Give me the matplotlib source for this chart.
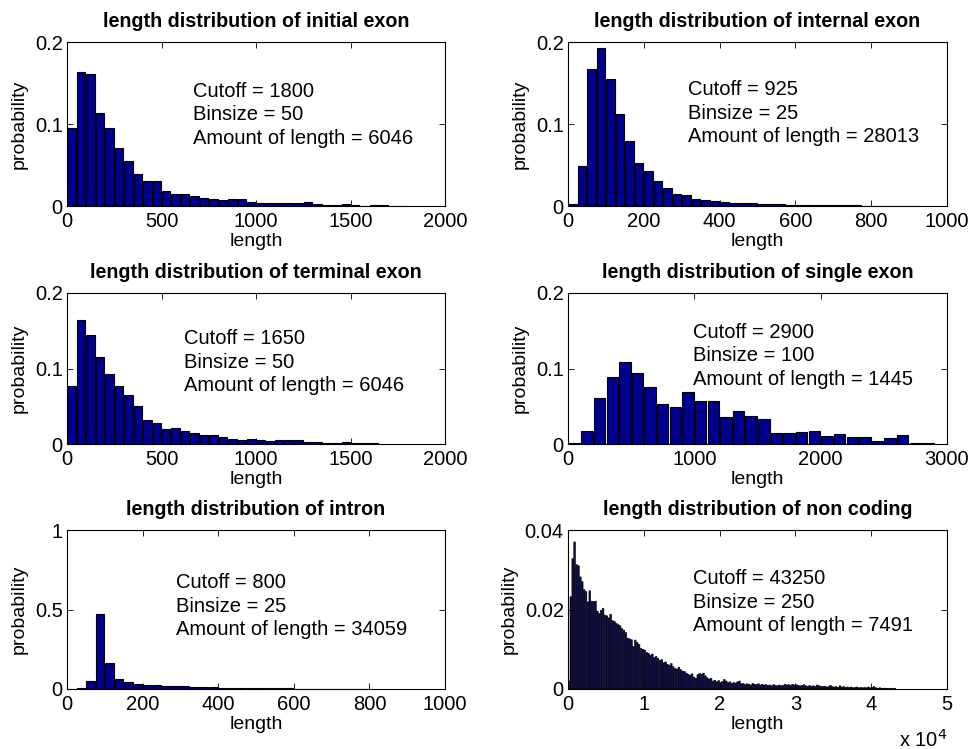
import numpy as np
import matplotlib
matplotlib.use("Agg")
import matplotlib.pyplot as plt

plt.rcParams['font.family'] = ['Liberation Sans', 'DejaVu Sans']

# ---------------- data ----------------
titles = ["length distribution of initial exon", "length distribution of internal exon",
          "length distribution of terminal exon", "length distribution of single exon",
          "length distribution of intron", "length distribution of non coding"]

binsizes = [50, 25, 50, 100, 25, 250]
cutoffs = [1800, 925, 1650, 2900, 800, 43250]
amounts = [6046, 28013, 6046, 1445, 34059, 7491]

initial_exon = [0.0951, 0.1634, 0.1606, 0.1134, 0.0951, 0.0707, 0.0553, 0.0386, 0.0309, 0.0305,
                0.0187, 0.0150, 0.0150, 0.0126, 0.0098, 0.0089, 0.0069, 0.0089, 0.0081, 0.0053,
                0.0033, 0.0033, 0.0033, 0.0037, 0.0037, 0.0053, 0.0020, 0.0010, 0.0010, 0.0020,
                0.0010, 0.0006, 0.0010, 0.0010, 0.0006, 0.0006]

internal_exon = [0.0020, 0.0492, 0.1670, 0.1930, 0.1550, 0.1120, 0.0795, 0.0520, 0.0426, 0.0307,
                 0.0225, 0.0152, 0.0131, 0.0086, 0.0070, 0.0066, 0.0045, 0.0040, 0.0037, 0.0033,
                 0.0029, 0.0029, 0.0020, 0.0016, 0.0012, 0.0012, 0.0012, 0.0010, 0.0008, 0.0008,
                 0.0008, 0.0006, 0.0006, 0.0006, 0.0005, 0.0005, 0.0005]

terminal_exon = [0.0762, 0.1639, 0.1450, 0.1154, 0.0930, 0.0762, 0.0643, 0.0507, 0.0317, 0.0282,
                 0.0198, 0.0216, 0.0172, 0.0150, 0.0119, 0.0119, 0.0097, 0.0066, 0.0053, 0.0066,
                 0.0053, 0.0035, 0.0057, 0.0048, 0.0057, 0.0026, 0.0022, 0.0018, 0.0018, 0.0022,
                 0.0018, 0.0018, 0.0010]

single_exon = [0.0013, 0.0172, 0.0604, 0.0890, 0.1080, 0.0934, 0.0753, 0.0524, 0.0493, 0.0692,
               0.0568, 0.0568, 0.0352, 0.0436, 0.0370, 0.0330, 0.0150, 0.0145, 0.0159, 0.0176,
               0.0110, 0.0137, 0.0093, 0.0088, 0.0044, 0.0079, 0.0123, 0.0013, 0.0009]

intron = [0.002, 0.004, 0.050, 0.470, 0.164, 0.065, 0.042, 0.034, 0.027, 0.025,
          0.021, 0.019, 0.017, 0.015, 0.013, 0.011, 0.009, 0.008, 0.007, 0.006,
          0.005, 0.005, 0.004, 0.004, 0.003, 0.003, 0.003, 0.002, 0.002, 0.002,
          0.002, 0.001]

non_coding = [
    0.0020, 0.0232, 0.0328, 0.0370, 0.0313, 0.0310, 0.0282, 0.0270, 0.0250, 0.0245,
    0.0219, 0.0247, 0.0221, 0.0220, 0.0221, 0.0196, 0.0190, 0.0198, 0.0203, 0.0186,
    0.0184, 0.0179, 0.0188, 0.0172, 0.0170, 0.0165, 0.0162, 0.0159, 0.0152, 0.0148,
    0.0142, 0.0128, 0.0126, 0.0124, 0.0107, 0.0123,
    0.0117, 0.0112, 0.0102, 0.0100, 0.0098, 0.0092, 0.0090, 0.0085, 0.0088, 0.0079,
    0.0082, 0.0077, 0.0072, 0.0074, 0.0066, 0.0068, 0.0062, 0.0060, 0.0064, 0.0056,
    0.0052, 0.0050, 0.0055, 0.0049, 0.0045, 0.0044, 0.0040, 0.0037, 0.0035, 0.0038,
    0.0030, 0.0027, 0.0036, 0.0039, 0.0037, 0.0040,
    0.0033, 0.0028, 0.0025, 0.0027, 0.0020, 0.0022, 0.0018, 0.0021, 0.0017, 0.0019,
    0.0024, 0.0020, 0.0016, 0.0018, 0.0014, 0.0016, 0.0015, 0.0018, 0.0020, 0.0013,
    0.0014, 0.0011, 0.0013, 0.0012, 0.0010, 0.0014, 0.0012, 0.0011, 0.0013, 0.0010,
    0.0012, 0.0010, 0.0011, 0.0009, 0.0010, 0.0008, 0.0011, 0.0009, 0.0008, 0.0010,
    0.0008, 0.0009,
    0.0012, 0.0010, 0.0011, 0.0009, 0.0012, 0.0010, 0.0011, 0.0009, 0.0008, 0.0009,
    0.0011, 0.0008, 0.0007, 0.0009, 0.0007, 0.0008, 0.0006, 0.0010, 0.0008, 0.0007,
    0.0006, 0.0007, 0.0005, 0.0006, 0.0009, 0.0006, 0.0005, 0.0006, 0.0004, 0.0008,
    0.0005, 0.0006, 0.0004, 0.0005, 0.0004, 0.0005, 0.0003, 0.0004, 0.0005, 0.0003,
    0.0004, 0.0003, 0.0004, 0.0003, 0.0005, 0.0003, 0.0004, 0.0006, 0.0003, 0.0002,
    0.0003, 0.0002, 0.0002, 0.0002, 0.0002, 0.0001, 0.0002, 0.0001, 0.0002]

series = [initial_exon, internal_exon, terminal_exon, single_exon, intron, non_coding]

xlims = [2000, 1000, 2000, 3000, 1000, 50000]
xticks = [[0, 500, 1000, 1500, 2000], [0, 200, 400, 600, 800, 1000],
          [0, 500, 1000, 1500, 2000], [0, 1000, 2000, 3000],
          [0, 200, 400, 600, 800, 1000], [0, 10000, 20000, 30000, 40000, 50000]]
xticklabels = [["0", "500", "1000", "1500", "2000"], ["0", "200", "400", "600", "800", "1000"],
               ["0", "500", "1000", "1500", "2000"], ["0", "1000", "2000", "3000"],
               ["0", "200", "400", "600", "800", "1000"], ["0", "1", "2", "3", "4", "5"]]
ylims = [0.2, 0.2, 0.2, 0.2, 1.0, 0.04]
yticks = [[0, 0.1, 0.2], [0, 0.1, 0.2], [0, 0.1, 0.2], [0, 0.1, 0.2], [0, 0.5, 1.0], [0, 0.02, 0.04]]
yticklabels = [["0", "0.1", "0.2"], ["0", "0.1", "0.2"], ["0", "0.1", "0.2"], ["0", "0.1", "0.2"],
               ["0", "0.5", "1"], ["0", "0.02", "0.04"]]

# ---------------- layout ----------------
W, H = 971, 749
fig = plt.figure(figsize=(W / 100, H / 100), dpi=100)

col_px = [(67, 445), (568, 947)]
row_px = [(42, 206), (293, 444), (530, 689)]
text_pos = [(0.333, 0.555), (0.317, 0.567), (0.31, 0.543), (0.33, 0.583), (0.288, 0.522), (0.33, 0.547)]

bar_color = '#00008F'
fs = 14.5
lab_fs = 14
title_fs = 14.2

for i in range(6):
    r, c = divmod(i, 2)
    l, rr = col_px[c]
    t, b = row_px[r]
    ax = fig.add_axes([l / W, 1 - b / H, (rr - l) / W, (b - t) / H])
    vals = np.array(series[i])
    bs = binsizes[i]
    centers = bs * (np.arange(len(vals)) + 0.5)
    if i < 5:
        ax.bar(centers, vals, width=bs * 0.9, color=bar_color, edgecolor='black', linewidth=0.8)
    else:
        ax.bar(centers, vals, width=bs * 0.9, color='#0a0a50', edgecolor='black',
               linewidth=0.4, snap=False)
    ax.set_xlim(0, xlims[i])
    ax.set_ylim(0, ylims[i])
    ax.set_xticks(xticks[i])
    ax.set_xticklabels(xticklabels[i])
    ax.set_yticks(yticks[i])
    ax.set_yticklabels(yticklabels[i])
    ax.tick_params(direction='in', top=True, right=True, length=4, width=0.6,
                   labelsize=fs, pad=3)
    ax.tick_params(axis='x', pad=4)
    for sp in ax.spines.values():
        sp.set_linewidth(0.8)
    ax.set_title(titles[i], fontsize=title_fs, fontweight='bold', pad=11)
    ax.set_xlabel('length', fontsize=lab_fs, labelpad=1.5)
    ax.set_ylabel('probability', fontsize=lab_fs, labelpad=5)
    tx, ty = text_pos[i]
    ax.text(tx, ty, f"Cutoff = {cutoffs[i]}\nBinsize = {bs}\nAmount of length = {amounts[i]}",
            transform=ax.transAxes, ha='left', va='center', fontsize=fs, linespacing=1.3)
    if i == 5:
        ax.text(1.0, -0.32, r"x 10$^{4}$", transform=ax.transAxes, ha='right', va='center',
                fontsize=fs)

fig.savefig('out.png', dpi=100)
